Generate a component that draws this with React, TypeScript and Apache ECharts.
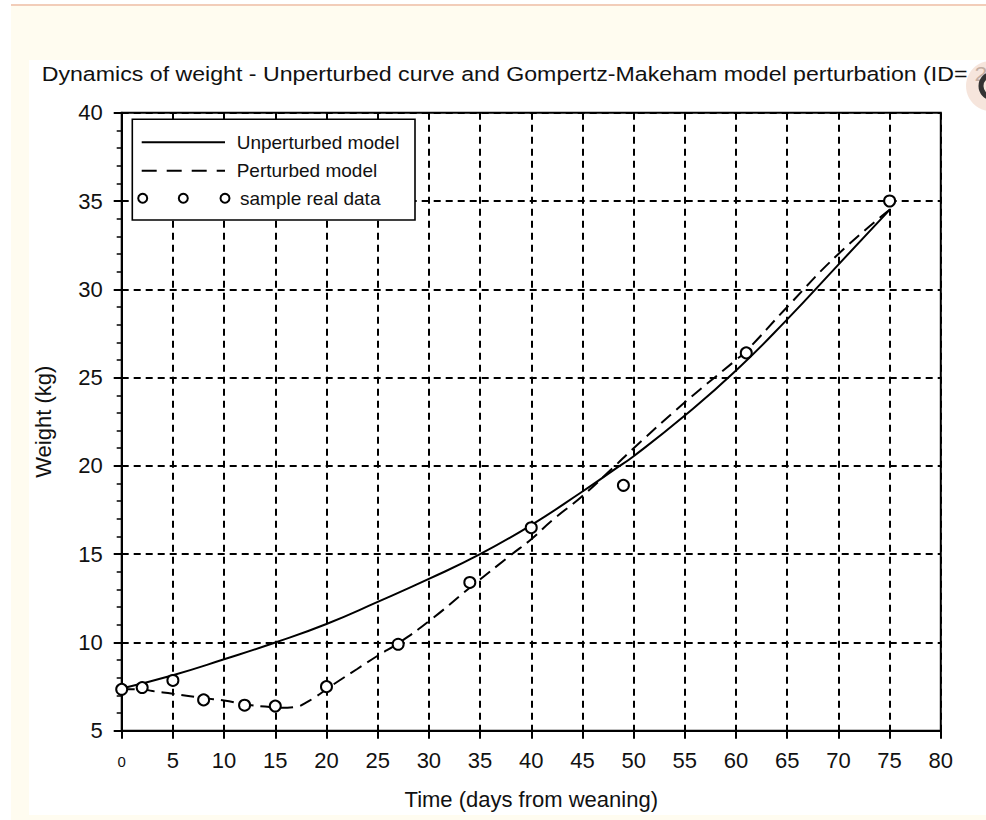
import React, { useEffect, useRef } from 'react';
import * as echarts from 'echarts';

const FONT = '"Liberation Sans", Arial, Helvetica, sans-serif';

const titleText = 'Dynamics of weight - Unperturbed curve and Gompertz-Makeham model perturbation (ID= ';
const titleIdDigit = '2';
const xAxisName = 'Time (days from weaning)';
const yAxisName = 'Weight (kg)';
const legendNames = ['Unperturbed model', 'Perturbed model', 'sample real data'];

const xMin = 0;
const xMax = 80;
const xStep = 5;
const yMin = 5;
const yMax = 40;
const yStep = 5;

const unperturbedDays = [0, 5, 10, 15, 20, 25, 30, 35, 40, 45, 48, 50, 55, 60, 65, 70, 75];
const unperturbedWeight = [7.4, 8.15, 9.05, 10.0, 11.05, 12.3, 13.6, 15.0, 16.65, 18.55, 19.75, 20.55, 22.85, 25.4, 28.3, 31.4, 34.5];

const perturbedDays = [0, 2, 3, 5, 8, 10, 12, 14, 15.5, 17, 18, 19, 20, 21, 23, 25, 27, 30, 34, 38, 40, 42, 45, 48, 50, 55, 60, 61, 65, 70, 75];
const perturbedWeight = [7.35, 7.35, 7.25, 7.1, 6.85, 6.72, 6.5, 6.37, 6.3, 6.35, 6.6, 6.95, 7.35, 7.75, 8.5, 9.25, 9.95, 11.2, 13.1, 14.95, 15.85, 16.9, 18.3, 19.9, 21.0, 23.6, 26.0, 26.5, 29.0, 32.0, 34.5];

const sampleDays = [0, 2, 5, 8, 12, 15, 20, 27, 34, 40, 49, 61, 75];
const sampleWeight = [7.35, 7.45, 7.85, 6.75, 6.45, 6.4, 7.5, 9.9, 13.4, 16.5, 18.9, 26.4, 35.0];

const zip = (xs: number[], ys: number[]) => xs.map((x, i) => [x, ys[i]]);

export default function App() {
  const ref = useRef<HTMLDivElement>(null);

  useEffect(() => {
    document.body.style.margin = '0';
    const chart = echarts.init(ref.current as HTMLDivElement, null, { renderer: 'svg' });
    const gridLeft = 121.7;
    const gridTop = 112.7;
    const gridW = 819.1;
    const gridH = 618.1;
    const textColor = '#111';

    const legendX = 132.3;
    const legendY = 119.3;

    const legendText = (text: string, x: number, y: number) => ({
      type: 'text',
      z: 101,
      x,
      y,
      style: { text, fontSize: 19, fontFamily: FONT, fill: textColor, verticalAlign: 'middle', align: 'left' },
    });

    chart.setOption({
      animation: false,
      backgroundColor: 'transparent',
      textStyle: { fontFamily: FONT },
      grid: {
        left: gridLeft,
        top: gridTop,
        width: gridW,
        height: gridH,
        show: true,
        borderColor: '#000',
        borderWidth: 2,
        backgroundColor: 'transparent',
      },
      xAxis: {
        type: 'value',
        min: xMin,
        max: xMax,
        interval: xStep,
        name: xAxisName,
        nameLocation: 'middle',
        nameGap: 58,
        nameTextStyle: { fontSize: 22, color: textColor, fontFamily: FONT },
        axisLine: { show: true, lineStyle: { color: '#000', width: 2 } },
        axisTick: { show: true, length: 8, lineStyle: { color: '#000', width: 2 } },
        axisLabel: {
          margin: 19,
          fontSize: 22,
          color: textColor,
          fontFamily: FONT,
          formatter: (v: number) => (v === 0 ? '{s|0}' : String(v)),
          rich: { s: { fontSize: 15, lineHeight: 24, color: textColor, fontFamily: FONT } },
        },
        splitLine: { show: true, lineStyle: { color: '#000', width: 2, type: [7, 5] } },
      },
      yAxis: {
        type: 'value',
        min: yMin,
        max: yMax,
        interval: yStep,
        name: yAxisName,
        nameLocation: 'middle',
        nameGap: 67,
        nameRotate: 90,
        nameTextStyle: { fontSize: 22, color: textColor, fontFamily: FONT },
        axisLine: { show: true, lineStyle: { color: '#000', width: 2 } },
        axisTick: { show: true, length: 8, lineStyle: { color: '#000', width: 2 } },
        minorTick: { show: true, splitNumber: 5, length: 5, lineStyle: { color: '#000', width: 1.5 } },
        axisLabel: { margin: 19, fontSize: 22, color: textColor, fontFamily: FONT },
        splitLine: { show: true, lineStyle: { color: '#000', width: 2, type: [7, 5] } },
      },
      series: [
        {
          name: legendNames[0],
          type: 'line',
          data: zip(unperturbedDays, unperturbedWeight),
          smooth: true,
          symbol: 'none',
          lineStyle: { color: '#000', width: 2 },
          z: 3,
        },
        {
          name: legendNames[1],
          type: 'line',
          data: zip(perturbedDays, perturbedWeight),
          smooth: true,
          symbol: 'none',
          lineStyle: { color: '#000', width: 2, type: [13, 7] },
          z: 3,
        },
        {
          name: legendNames[2],
          type: 'scatter',
          data: zip(sampleDays, sampleWeight),
          symbol: 'circle',
          symbolSize: 11,
          itemStyle: { color: '#fff', borderColor: '#000', borderWidth: 2, opacity: 1 },
          z: 4,
        },
      ],
      graphic: [
        {
          type: 'text',
          z: 100,
          x: 41.7,
          y: 73.5,
          scaleX: 1.13,
          style: {
            text: `{a|${titleText}}{b|${titleIdDigit}}`,
            verticalAlign: 'middle',
            align: 'left',
            rich: {
              a: { fontSize: 20.5, fill: textColor, fontFamily: FONT },
              b: { fontSize: 20.5, fill: '#8f8580', fontFamily: FONT },
            },
          },
        },
        {
          type: 'rect',
          z: 100,
          shape: { x: legendX, y: legendY, width: 282.7, height: 100.7 },
          style: { fill: '#fff', stroke: '#000', lineWidth: 1.6 },
        },
        {
          type: 'line',
          z: 101,
          shape: { x1: 141.7, y1: 142.3, x2: 225, y2: 142.3 },
          style: { stroke: '#000', lineWidth: 2 },
        },
        {
          type: 'line',
          z: 101,
          shape: { x1: 141.7, y1: 170.7, x2: 225, y2: 170.7 },
          style: { stroke: '#000', lineWidth: 2, lineDash: [15, 10] },
        },
        ...[142.7, 183.3, 225].map((cx) => ({
          type: 'circle',
          z: 101,
          shape: { cx, cy: 198.3, r: 4.5 },
          style: { fill: '#fff', stroke: '#000', lineWidth: 2 },
        })),
        legendText(legendNames[0], 236.7, 142.3),
        legendText(legendNames[1], 236.7, 170.7),
        legendText(legendNames[2], 240, 198.3),
        {
          type: 'circle',
          z: 110,
          shape: { cx: 991, cy: 86, r: 25 },
          style: { fill: '#efcfbf', opacity: 0.55 },
        },
        {
          type: 'arc',
          z: 111,
          shape: { cx: 993, cy: 86, r: 12, startAngle: Math.PI * 0.3, endAngle: Math.PI * 1.7, clockwise: true },
          style: { stroke: '#333', lineWidth: 5, fill: 'none' },
        },
      ],
    });
    return () => chart.dispose();
  }, []);

  return (
    <div style={{ position: 'relative', width: 986, height: 820, background: '#fff', overflow: 'hidden' }}>
      <div style={{ position: 'absolute', left: 11, top: 6, width: 975, height: 814, background: '#fffcf0' }} />
      <div style={{ position: 'absolute', left: 11, top: 4, width: 975, height: 2, background: '#f2cdb9' }} />
      <div style={{ position: 'absolute', left: 29, top: 60, width: 957, height: 755, background: '#fff' }} />
      <div ref={ref} style={{ position: 'absolute', left: 0, top: 0, width: 986, height: 820 }} />
    </div>
  );
}
